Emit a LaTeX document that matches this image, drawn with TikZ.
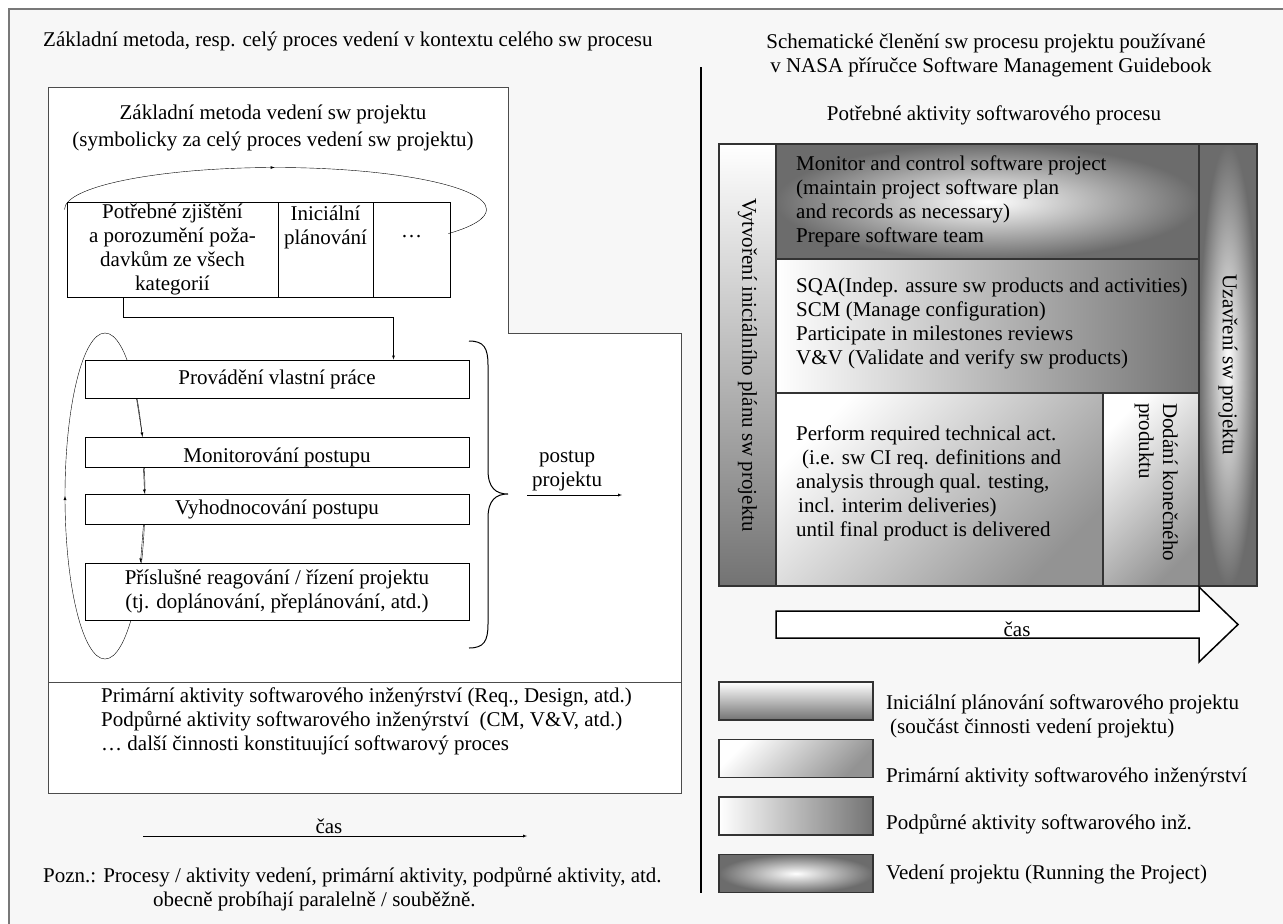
\documentclass[tikz,border=0pt]{standalone}
\usepackage{fontspec}
\setmainfont{Liberation Serif}
\usepackage{tikz}
\usepackage{xcolor}
\usetikzlibrary{decorations.markings}

\definecolor{paper}{RGB}{247,247,247}
\definecolor{framegray}{RGB}{120,120,120}

\begin{document}
\begin{tikzpicture}[x=1pt, y=-1pt, >=latex,
        every node/.style={font=\fontsize{21}{24}\selectfont, inner sep=0pt},
        cell/.style={draw, fill=white, line width=1pt, align=center},
        gridcell/.style={draw=black!80, line width=1.5pt},
        planning/.style={gridcell, top color=white, bottom color=gray!90!black},
        primary/.style={gridcell, top color=white, bottom color=gray!85, shading angle=45},
        support/.style={gridcell, left color=white, right color=gray!90!black},
        running/.style={gridcell, inner color=white, outer color=gray!85!black},
        markarrow/.style={postaction=decorate,
            decoration={markings, mark=at position #1 with {\arrow{>}}}}]
                \useasboundingbox (0, 0) rectangle (1283, 924);
                \fill[white] (0, 0) rectangle (1283, 924);
                \fill[paper] (9, 9) rectangle (1283, 924);
                \draw[framegray, line width=1.5pt] (9, 924) -- (9, 9) -- (1283, 9);

                \node[anchor=west] (lhead) at (43, 41) {Základní metoda, resp. celý proces vedení v kontextu celého sw procesu};

                \draw[draw=gray!60!black, fill=white, line width=1pt]
                (48, 87) -- (508, 87) -- (508, 333) -- (681, 333) -- (681, 793) -- (48, 793) -- cycle
                (48, 682) -- (681, 682);

                \node[align=center] (mtitle) at (273, 128) {Základní metoda vedení sw projektu\\[3pt](symbolicky za celý proces vedení sw projektu)};

                \node[cell, minimum width=211pt, minimum height=95pt] (find) at (172.5, 249.5) {Potřebné zjištění\\a porozumění poža-\\davkům ze všech\\kategorií};
                \node[cell, minimum width=95pt, minimum height=95pt] (plan) at (325.5, 249.5) {Iniciální\\plánování\\\mbox{}\\\mbox{}};
                \node[cell, minimum width=77pt, minimum height=95pt] (more) at (411.5, 249.5) {\mbox{}\\…\\\mbox{}\\\mbox{}};

                \draw[markarrow=0.45]
                ([shift={(-2, 8)}]find.north west) arc[start angle=180, end angle=395, x radius=211, y radius=42];

                \draw[markarrow=0.25]
                (105, 659) arc[start angle=90, end angle=450, x radius=40, y radius=163];

                \node[cell, minimum width=384pt, minimum height=38pt] (work) at (277, 379) {Provádění vlastní práce};
                \node[cell, minimum width=384pt, minimum height=30pt, text height=20pt, text depth=0pt] (monit) at (277, 452) {Monitorování postupu};
                \node[cell, minimum width=384pt, minimum height=30pt] (eval) at (277, 509) {Vyhodnocování postupu};
                \node[cell, minimum width=384pt, minimum height=57pt] (react) at (277, 591.5) {Příslušné reagování / řízení projektu\\(tj. doplánování, přeplánování, atd.)};

                \draw[->] ([xshift=57pt]find.south west) -- ++(0, 20) -| ([xshift=-76pt]work.north east);
                \draw
                ([xshift=52pt]work.south west) edge[->] ([xshift=58pt]monit.north west)
                ([xshift=59pt]monit.south west) edge[->] ([xshift=60pt]eval.north west)
                ([xshift=59pt]eval.south west) edge[->] ([xshift=56pt]react.north west);

                \coordinate (bracetip) at (508, 494);
                \draw[line width=1pt]
                (469, 341) .. controls (484, 341) and (488, 348) .. (488, 365) -- (488, 470)
                .. controls (488, 488) and (496, 494) .. (bracetip)
                .. controls (496, 494) and (488, 500) .. (488, 518) -- (488, 624)
                .. controls (488, 641) and (484, 648) .. (469, 648);

                \node[align=center] (progress) at (567, 471) {postup\\projektu};
                \coordinate (pstart) at (527, 495);
                \coordinate (pend) at (622, 495);
                \draw (pstart) edge[->] (pend);

                \node[anchor=west, align=left] (acts) at (101, 721) {Primární aktivity softwarového inženýrství (Req., Design, atd.)\\Podpůrné aktivity softwarového inženýrství\ \ (CM, V\&V, atd.)\\… další činnosti konstituující softwarový proces};

                \node (ltime) at (329, 826) {čas};
                \coordinate (tstart) at (143, 836);
                \coordinate (tend) at (527, 836);
                \draw (tstart) edge[->] (tend);

                \node[anchor=west] (note) at (43, 877) {Pozn.: Procesy / aktivity vedení, primární aktivity, podpůrné aktivity, atd.};
                \node[anchor=west] (note2) at (153, 901) {obecně probíhají paralelně / souběžně.};

                \draw[line width=2pt] (701, 67) -- (701, 893);

                \node[align=center] (rhead) at (986, 55) {Schematické členění sw procesu projektu používané\\\hspace{10pt}v NASA příručce Software Management Guidebook};
                \node (rsub) at (994, 115) {Potřebné aktivity softwarového procesu};

                \node[planning, minimum width=57pt, minimum height=442pt] (init) at (747.5, 365) {};
                \node[running, minimum width=423pt, minimum height=115pt] (ctrl) at (987.5, 201.5) {};
                \node[support, minimum width=423pt, minimum height=134pt] (sqa) at (987.5, 326) {};
                \node[primary, minimum width=327pt, minimum height=193pt] (tech) at (939.5, 489.5) {};
                \node[primary, minimum width=96pt, minimum height=193pt] (deliv) at (1151, 489.5) {};
                \node[running, minimum width=58pt, minimum height=442pt] (close) at (1228, 365) {};

                \node[rotate=-90] (inittext) at (init.center) {Vytvoření iniciálního plánu sw projektu};
                \node[rotate=-90] (closetext) at (close.center) {Uzavření sw projektu};
                \node[rotate=-90, anchor=north west, align=left] (delivtext) at (1178, 403) {Dodání konečného\\produktu};

                \node[anchor=west, align=left] (ctrltext) at (796, 201.5) {Monitor and control software project\\(maintain project software plan\\and records as necessary)\\Prepare software team};
                \node[anchor=west, align=left] (sqatext) at (796, 323.5) {SQA(Indep. assure sw products and activities)\\SCM (Manage configuration)\\Participate in milestones reviews\\V\&V (Validate and verify sw products)};
                \node[anchor=west, align=left] (techtext) at (796, 483.5) {Perform required technical act.\\\hspace{6pt}(i.e. sw CI req. definitions and\\analysis through qual. testing,\\\hspace{2pt}incl. interim deliveries)\\until final product is delivered};

                \draw[fill=white, line width=1.5pt]
                (776, 611) -- (1199, 611) -- (1199, 587) -- (1238, 624.5) -- (1199, 662) -- (1199, 638) -- (776, 638) -- cycle;
                \node (rtime) at (1017, 629) {čas};

                \node[planning, minimum width=154pt, minimum height=38pt] (lgplan) at (796, 701) {};
                \node[primary, minimum width=154pt, minimum height=38pt] (lgprim) at (796, 758.5) {};
                \node[support, minimum width=154pt, minimum height=38pt] (lgsupp) at (796, 816) {};
                \node[running, minimum width=154pt, minimum height=38pt] (lgrun) at (796, 873.5) {};

                \node[anchor=west, align=left] (lbplan) at (886, 716) {Iniciální plánování softwarového projektu\\\hspace{4pt}(součást činnosti vedení projektu)};
                \node[anchor=west] (lbprim) at (886, 777) {Primární aktivity softwarového inženýrství};
                \node[anchor=west] (lbsupp) at (886, 824) {Podpůrné aktivity softwarového inž.};
                \node[anchor=west] (lbrun) at (886, 874) {Vedení projektu (Running the Project)};
            \end{tikzpicture}
\end{document}
